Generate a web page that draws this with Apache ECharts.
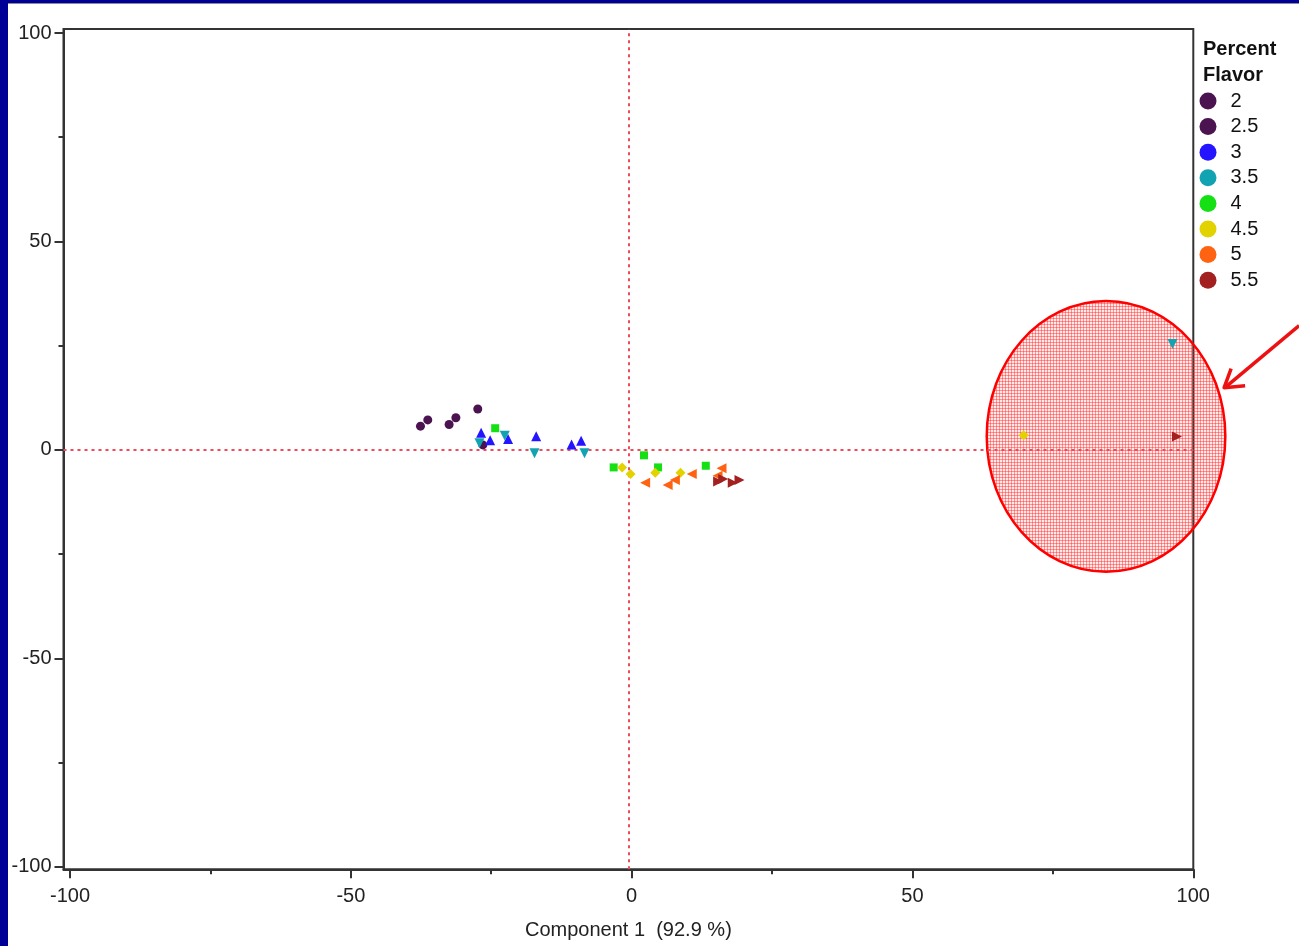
<!DOCTYPE html>
<html>
<head>
<meta charset="utf-8">
<script src="https://cdn.jsdelivr.net/npm/echarts@6/dist/echarts.min.js"></script>
<style>
html,body{margin:0;padding:0;background:#fff;}
#chart{width:1299px;height:946px;}
</style>
</head>
<body>
<div id="chart"></div>
<script>
// ---- data ----
const flavorLevels = ['2', '2.5', '3', '3.5', '4', '4.5', '5', '5.5'];
const pf2   = [[-37.6, 5.7], [-36.3, 7.2], [-27.4, 9.8]];
const pf2_5 = [[-32.5, 6.1], [-31.3, 7.7], [-26.5, 1.2]];
const pf3   = [[-26.8, 4.1], [-25.2, 2.3], [-22.0, 2.6], [-17.0, 3.3], [-10.7, 1.3], [-9.0, 2.2]];
const pf3_5 = [[-27.1, 1.6], [-22.6, 3.4], [-17.3, -0.8], [-8.4, -0.8], [96.3, 25.4]];
const pf4   = [[-24.3, 5.2], [2.2, -1.3], [-3.2, -4.2], [4.7, -4.2], [13.2, -3.8]];
const pf4_5 = [[-1.7, -4.2], [-0.2, -5.8], [4.2, -5.5], [8.7, -5.5], [69.8, 3.5]];
const pf5   = [[2.4, -7.9], [6.4, -8.4], [7.7, -7.2], [10.7, -5.8], [16.0, -4.4], [15.3, -6.2]];
const pf5_5 = [[15.4, -7.6], [16.3, -7.0], [18.0, -7.9], [19.2, -7.2], [97.1, 3.2]];
const xTickLabels = [-100, -50, 0, 50, 100];
const xMinorTicks = [-75, -25, 25, 75];
const yTickLabels = [-100, -50, 0, 50, 100];
const yMinorTicks = [-75, -25, 25, 75];
const xAxisTitle = 'Component 1  (92.9 %)';
const legendTitle = 'Percent\nFlavor';
// outlier annotation (data coordinates): centre and radii
const outlierCentre = [84.46, 3.24];
const outlierRadii = [21.24, 32.46];
const refX = -0.5, refY = 0;

// ---- styles ----
const FONT = 'Liberation Sans, Arial, sans-serif';
const seriesStyle = [
  {color: '#4b1451', symbol: 'circle', rot: 0, size: 9},
  {color: '#4b1451', symbol: 'circle', rot: 0, size: 9},
  {color: '#2414ff', symbol: 'triangle', rot: 0, size: 10},
  {color: '#12a3b3', symbol: 'triangle', rot: 180, size: 10},
  {color: '#14e014', symbol: 'rect', rot: 0, size: 8},
  {color: '#e2d200', symbol: 'diamond', rot: 0, size: 10},
  {color: '#ff6210', symbol: 'triangle', rot: 90, size: 10},
  {color: '#a32020', symbol: 'triangle', rot: -90, size: 10}
];
const seriesData = [pf2, pf2_5, pf3, pf3_5, pf4, pf4_5, pf5, pf5_5];

const chart = echarts.init(document.getElementById('chart'), null, {renderer: 'canvas'});

const xMin = -101.16, xMax = 100, yMin = -100.6, yMax = 100.96;
const axisColor = '#333';

function xAx(ticks, len, showLabel, showLine) {
  return {
    type: 'value', min: xMin, max: xMax, position: 'bottom', gridIndex: 0,
    axisLine: {show: showLine, onZero: false, lineStyle: {color: axisColor, width: 2}},
    axisTick: {show: true, length: len, customValues: ticks, lineStyle: {color: axisColor, width: 2}},
    axisLabel: {show: showLabel, customValues: ticks, fontSize: 20, color: '#222', fontFamily: FONT, margin: 17},
    splitLine: {show: false},
    name: showLabel ? xAxisTitle : '', nameLocation: 'middle', nameGap: 51,
    nameTextStyle: {fontSize: 20, color: '#222', fontFamily: FONT}
  };
}
function yAx(ticks, len, showLabel, showLine) {
  return {
    type: 'value', min: yMin, max: yMax, position: 'left', gridIndex: 0,
    axisLine: {show: showLine, onZero: false, lineStyle: {color: axisColor, width: 2}},
    axisTick: {show: true, length: len, customValues: ticks, lineStyle: {color: axisColor, width: 2}},
    axisLabel: {show: showLabel, customValues: ticks, fontSize: 20, color: '#222', fontFamily: FONT, margin: 12},
    splitLine: {show: false}
  };
}

const series = flavorLevels.map((name, i) => ({
  name: name,
  type: 'scatter',
  xAxisIndex: 0, yAxisIndex: 0,
  data: seriesData[i],
  symbol: seriesStyle[i].symbol,
  symbolRotate: seriesStyle[i].rot,
  symbolSize: seriesStyle[i].size,
  itemStyle: {color: seriesStyle[i].color, opacity: 1},
  z: 5
}));
series[0].markLine = {
  silent: true, symbol: 'none', animation: false,
  label: {show: false},
  lineStyle: {color: '#ee4a5a', type: [3, 4], width: 2},
  data: [{xAxis: refX}, {yAxis: refY}]
};

chart.setOption({
  animation: false,
  backgroundColor: '#fff',
  grid: {left: 63.5, right: 105.7, top: 29, bottom: 76.7, show: true, borderColor: axisColor, borderWidth: 2, backgroundColor: 'transparent'},
  xAxis: [xAx(xTickLabels, 9, true, true), xAx(xMinorTicks, 5, false, false)],
  yAxis: [yAx(yTickLabels, 9, true, true), yAx(yMinorTicks, 5, false, false)],
  legend: {
    orient: 'vertical', left: 1199.5, top: 91, padding: 0,
    itemWidth: 17, itemHeight: 17, itemGap: 5.6, icon: 'circle',
    data: flavorLevels,
    textStyle: {fontSize: 20, color: '#111', fontFamily: FONT, lineHeight: 20, padding: [0, 0, 0, 9]},
    selectedMode: false
  },
  series: series
});

// hatched fill pattern for the annotation ellipse
const pc = document.createElement('canvas');
pc.width = 3; pc.height = 3;
const pctx = pc.getContext('2d');
pctx.fillStyle = 'rgba(255,40,40,0.10)';
pctx.fillRect(0, 0, 3, 3);
pctx.fillStyle = 'rgba(255,40,40,0.45)';
pctx.fillRect(0, 0, 3, 1);
pctx.fillRect(0, 0, 1, 3);

const c = chart.convertToPixel({gridIndex: 0}, outlierCentre);
const e = chart.convertToPixel({gridIndex: 0}, [outlierCentre[0] + outlierRadii[0], outlierCentre[1] + outlierRadii[1]]);
const rx = e[0] - c[0], ry = c[1] - e[1];
const tip = [c[0] + rx * 0.99, c[1] - ry * 0.36];

chart.setOption({
  graphic: [
    {type: 'rect', shape: {x: 0, y: 0, width: 8, height: 946}, style: {fill: '#000096'}, z: 100, silent: true},
    {type: 'rect', shape: {x: 0, y: 0, width: 1299, height: 3}, style: {fill: '#000096'}, z: 100, silent: true},
    {type: 'rect', shape: {x: 8, y: 3, width: 1291, height: 1}, style: {fill: '#8a8a9a'}, z: 100, silent: true},
    {type: 'text', x: 1203, y: 36, style: {text: legendTitle, font: 'bold 20px ' + FONT, fill: '#111', lineHeight: 26}, z: 50, silent: true},
    {type: 'ellipse', shape: {cx: c[0], cy: c[1], rx: rx, ry: ry},
      style: {fill: {image: pc, repeat: 'repeat'}, stroke: '#ff0000', lineWidth: 2.5}, z: 1, silent: true},
    {type: 'line', shape: {x1: tip[0] + 75, y1: tip[1] - 62, x2: tip[0] + 2, y2: tip[1] - 1},
      style: {stroke: '#ee1111', lineWidth: 3.5}, z: 60, silent: true},
    {type: 'polyline', shape: {points: [[tip[0] + 7, tip[1] - 19], [tip[0], tip[1]], [tip[0] + 21, tip[1] - 2]]},
      style: {stroke: '#ee1111', lineWidth: 3.5, fill: null, lineJoin: 'round'}, z: 60, silent: true}
  ]
});
</script>
</body>
</html>
